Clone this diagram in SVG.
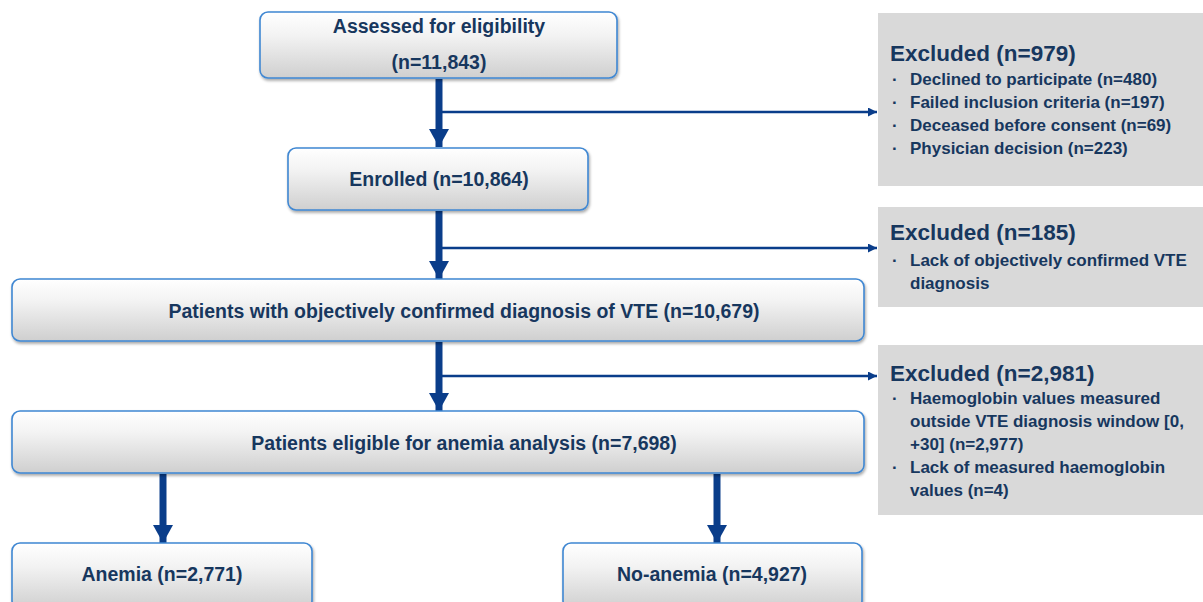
<svg xmlns="http://www.w3.org/2000/svg" width="1203" height="602" viewBox="0 0 1203 602">
<defs>
<linearGradient id="boxg" x1="0" y1="0" x2="0" y2="1">
<stop offset="0" stop-color="#ffffff"/>
<stop offset="0.35" stop-color="#f3f3f3"/>
<stop offset="1" stop-color="#cfcfcf"/>
</linearGradient>
<filter id="sh" x="-5%" y="-10%" width="110%" height="130%">
<feGaussianBlur in="SourceAlpha" stdDeviation="1.5"/>
<feOffset dx="1" dy="2" result="b"/>
<feComponentTransfer><feFuncA type="linear" slope="0.35"/></feComponentTransfer>
<feMerge><feMergeNode/><feMergeNode in="SourceGraphic"/></feMerge>
</filter>
<marker id="sm" viewBox="0 0 10 10" refX="10" refY="5" markerWidth="10" markerHeight="9" markerUnits="userSpaceOnUse" orient="auto">
<path d="M0,0 L10,5 L0,10 z" fill="#0a3d8a"/>
</marker>
<marker id="bm" viewBox="0 0 20 18" refX="10" refY="18" markerWidth="20" markerHeight="18" markerUnits="userSpaceOnUse" orient="0">
<path d="M0,0 L20,0 L10,18 z" fill="#0a3d8a"/>
</marker>
</defs>
<style>
.box{fill:url(#boxg);stroke:#3f87d2;stroke-width:1.6;filter:url(#sh)}
.ex{fill:#d9d9d9}
.t{font-family:"Liberation Sans",Arial,sans-serif;font-weight:bold;fill:#17375e}
.bt{font-size:19.5px;text-anchor:middle}
.hd{font-size:22.5px}
.it{font-size:17px}
.main{stroke:#0a3d8a;stroke-width:7;fill:none;marker-end:url(#bm)}
.br{stroke:#0a3d8a;stroke-width:2.5;fill:none;marker-end:url(#sm)}
</style>

<g id="connectors">
<line class="main" x1="439" y1="79" x2="439" y2="147"/>
<line class="br" x1="439" y1="112" x2="877" y2="112"/>
<line class="main" x1="439" y1="211" x2="439" y2="279"/>
<line class="br" x1="439" y1="248" x2="877" y2="248"/>
<line class="main" x1="439" y1="342" x2="439" y2="411"/>
<line class="br" x1="439" y1="376" x2="877" y2="376"/>
<line class="main" x1="163" y1="474" x2="163" y2="543"/>
<line class="main" x1="717" y1="474" x2="717" y2="543"/>
</g>

<g id="assessed">
<rect class="box" x="260" y="12" width="357" height="66" rx="8"/>
<text class="t bt" x="439" y="33">Assessed for eligibility</text>
<text class="t bt" x="439" y="69">(n=11,843)</text>
</g>

<g id="enrolled">
<rect class="box" x="288" y="148" width="300" height="62" rx="8"/>
<text class="t bt" x="439" y="186">Enrolled (n=10,864)</text>
</g>

<g id="confirmed">
<rect class="box" x="12" y="279" width="852" height="62" rx="8"/>
<text class="t bt" x="464" y="318">Patients with objectively confirmed diagnosis of VTE (n=10,679)</text>
</g>

<g id="eligible">
<rect class="box" x="12" y="411" width="852" height="62" rx="8"/>
<text class="t bt" x="464" y="450">Patients eligible for anemia analysis (n=7,698)</text>
</g>

<g id="anemia">
<rect class="box" x="12" y="543" width="300" height="66" rx="8"/>
<text class="t bt" x="162" y="581">Anemia (n=2,771)</text>
</g>

<g id="noanemia">
<rect class="box" x="563" y="543" width="299" height="66" rx="8"/>
<text class="t bt" x="712" y="581">No-anemia (n=4,927)</text>
</g>

<g id="excluded1">
<rect class="ex" x="878" y="13" width="325" height="173"/>
<text class="t hd" x="890" y="61">Excluded (n=979)</text>
<text class="t it" x="892" y="85">·</text><text class="t it" x="910" y="85">Declined to participate (n=480)</text>
<text class="t it" x="892" y="108">·</text><text class="t it" x="910" y="108">Failed inclusion criteria (n=197)</text>
<text class="t it" x="892" y="131">·</text><text class="t it" x="910" y="131">Deceased before consent (n=69)</text>
<text class="t it" x="892" y="154">·</text><text class="t it" x="910" y="154">Physician decision (n=223)</text>
</g>

<g id="excluded2">
<rect class="ex" x="878" y="207" width="325" height="100"/>
<text class="t hd" x="890" y="240">Excluded (n=185)</text>
<text class="t it" x="892" y="266">·</text><text class="t it" x="910" y="266">Lack of objectively confirmed VTE</text>
<text class="t it" x="910" y="289">diagnosis</text>
</g>

<g id="excluded3">
<rect class="ex" x="878" y="345" width="325" height="170"/>
<text class="t hd" x="890" y="381">Excluded (n=2,981)</text>
<text class="t it" x="892" y="404">·</text><text class="t it" x="910" y="404">Haemoglobin values measured</text>
<text class="t it" x="910" y="427">outside VTE diagnosis window [0,</text>
<text class="t it" x="910" y="450">+30] (n=2,977)</text>
<text class="t it" x="892" y="473">·</text><text class="t it" x="910" y="473">Lack of measured haemoglobin</text>
<text class="t it" x="910" y="496">values (n=4)</text>
</g>
</svg>
